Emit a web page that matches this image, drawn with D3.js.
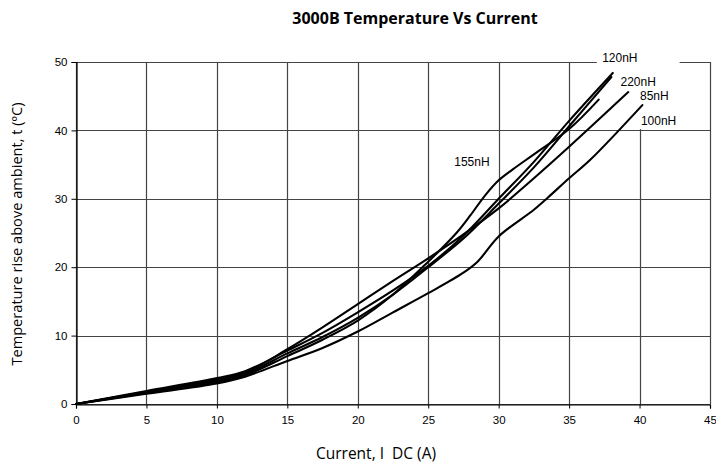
<!DOCTYPE html>
<html><head><meta charset="utf-8">
<script src="https://cdn.jsdelivr.net/npm/d3@7"></script>
<style>
body{margin:0;background:#fff}
svg{display:block}
.tick text{font-family:"Liberation Sans Narrow","Arial Narrow","Liberation Sans",Arial,sans-serif;font-size:11.5px;fill:#000}
</style></head>
<body>
<svg id="c" width="716" height="467"></svg>
<script>
const title = "3000B Temperature Vs Current";
const xLabel = "Current, I  DC (A)";
const yLabel = "Temperature rise above ambient, t (ºC)";
const xTicks = [0,5,10,15,20,25,30,35,40,45];
const yTicks = [0,10,20,30,40,50];
const seriesNames = ["120nH","220nH","85nH","100nH","155nH"];
const s120 = [[0,0],[5,1.9],[10,3.8],[12,4.8],[15,7.8],[17.5,10.4],[20,13.4],[22.5,16.6],[25,20.2],[27.5,24.6],[30,30.0],[32.5,35.4],[35,41.4],[38.1,48.4]];
const s220 = [[0,0],[5,1.7],[10,3.4],[12,4.4],[15,7.4],[17.5,9.8],[20,12.6],[22.5,16.0],[25,20.0],[27.5,24.2],[30,29.3],[32.5,34.6],[35,40.6],[38,47.8]];
const s85  = [[0,0],[5,1.8],[10,3.6],[12,4.6],[15,8.0],[17.5,11.2],[20,14.6],[22.5,18.0],[25,21.3],[27.5,24.8],[30,28.6],[32.5,33.0],[35,37.6],[39.2,45.6]];
const s100 = [[0,0],[5,1.5],[10,3.0],[12,4.0],[15,6.3],[17.5,8.2],[20,10.6],[22.5,13.4],[25,16.2],[27.5,19.2],[28.5,20.8],[30,24.5],[32.5,28.4],[33.5,30.2],[35,33.0],[36.5,35.7],[40.2,43.7]];
const s155 = [[0,0],[5,1.6],[10,3.2],[12,4.2],[15,7.0],[17.5,9.4],[20,12.2],[22.5,16.0],[25,20.8],[27,25.0],[28,27.6],[29,30.4],[30,32.7],[31,34.3],[32.5,36.5],[35,40.2],[37.1,44.5]];
const seriesData = [s120,s220,s85,s100,s155];
// label anchors (data units)
const labelPos = [[38.6,50.6],[39.9,47.2],[41.05,45.1],[41.35,41.5],[28.1,35.4]];

const svg = d3.select("#c");
const m = {l:76,r:6,t:62,b:63};
const W = 716, H = 467;
const x = d3.scaleLinear().domain([0,45]).range([m.l, W-m.r]);
const y = d3.scaleLinear().domain([0,50]).range([H-m.b, m.t]);

// grid
const g = svg.append("g");
g.selectAll("line.v").data(xTicks).join("line")
 .attr("x1",d=>Math.round(x(d))+0.5).attr("x2",d=>Math.round(x(d))+0.5)
 .attr("y1",y(50)).attr("y2",y(0)).attr("stroke","#444").attr("stroke-width",1.2);
g.selectAll("line.h").data(yTicks).join("line")
 .attr("y1",d=>Math.round(y(d))+0.5).attr("y2",d=>Math.round(y(d))+0.5)
 .attr("x1",x(0)).attr("x2",x(45)).attr("stroke","#444").attr("stroke-width",1.2);

// axes
const xa = svg.append("g").attr("transform",`translate(0,${Math.round(y(0))+0.5})`)
  .call(d3.axisBottom(x).tickValues(xTicks).tickSize(4).tickPadding(7));
const ya = svg.append("g").attr("transform",`translate(${Math.round(x(0))+0.5},0)`)
  .call(d3.axisLeft(y).tickValues(yTicks).tickSize(5).tickPadding(4));
[xa,ya].forEach(a=>{a.select(".domain").attr("stroke","#000").attr("stroke-width",1.2);a.selectAll(".tick line").attr("stroke","#000");});

// label background boxes (white, break the grid like the original)
const lab = seriesNames.map((n,i)=>({n, p:labelPos[i]}));
const boxes = [
  {p:labelPos[0], dx:-23, dy:-6, w:49, h:14},
  {p:labelPos[1], dx:-20, dy:-10, w:42, h:19},
  {p:labelPos[3], dx:-23, dy:-70, w:44, h:79}
];
svg.selectAll("rect.lb").data(boxes).join("rect")
 .attr("x",d=>x(d.p[0])+d.dx).attr("y",d=>y(d.p[1])+d.dy).attr("width",d=>d.w).attr("height",d=>d.h).attr("fill","#fff");

// curves
const line = d3.line().x(d=>x(d[0])).y(d=>y(d[1])).curve(d3.curveCatmullRom.alpha(0.5));
svg.selectAll("path.s").data(seriesData).join("path")
 .attr("d",line).attr("fill","none").attr("stroke","#000").attr("stroke-width",2.1).attr("stroke-linecap","round");

// series labels
svg.selectAll("text.sl").data(lab).join("text")
 .attr("x",d=>x(d.p[0])).attr("y",d=>y(d.p[1])+4.5)
 .attr("text-anchor","middle")
 .style("font-family",'"Liberation Sans Narrow","Arial Narrow","Liberation Sans",Arial,sans-serif')
 .style("font-size","12px").text(d=>d.n);

// title & axis labels
svg.append("text").attr("x",415).attr("y",24).attr("text-anchor","middle")
 .style("font-family",'"Open Sans",sans-serif').style("font-weight","700").style("font-size","16px").text(title);
svg.append("text").attr("x",376).attr("y",459).attr("text-anchor","middle").style("white-space","pre")
 .style("font-family",'"Open Sans",sans-serif').style("font-size","15.5px").text(xLabel);
svg.append("text").attr("transform","translate(22,234) rotate(-90)").attr("text-anchor","middle")
 .style("font-family",'"Open Sans",sans-serif').style("font-size","14.6px").text(yLabel);
</script>
</body></html>
